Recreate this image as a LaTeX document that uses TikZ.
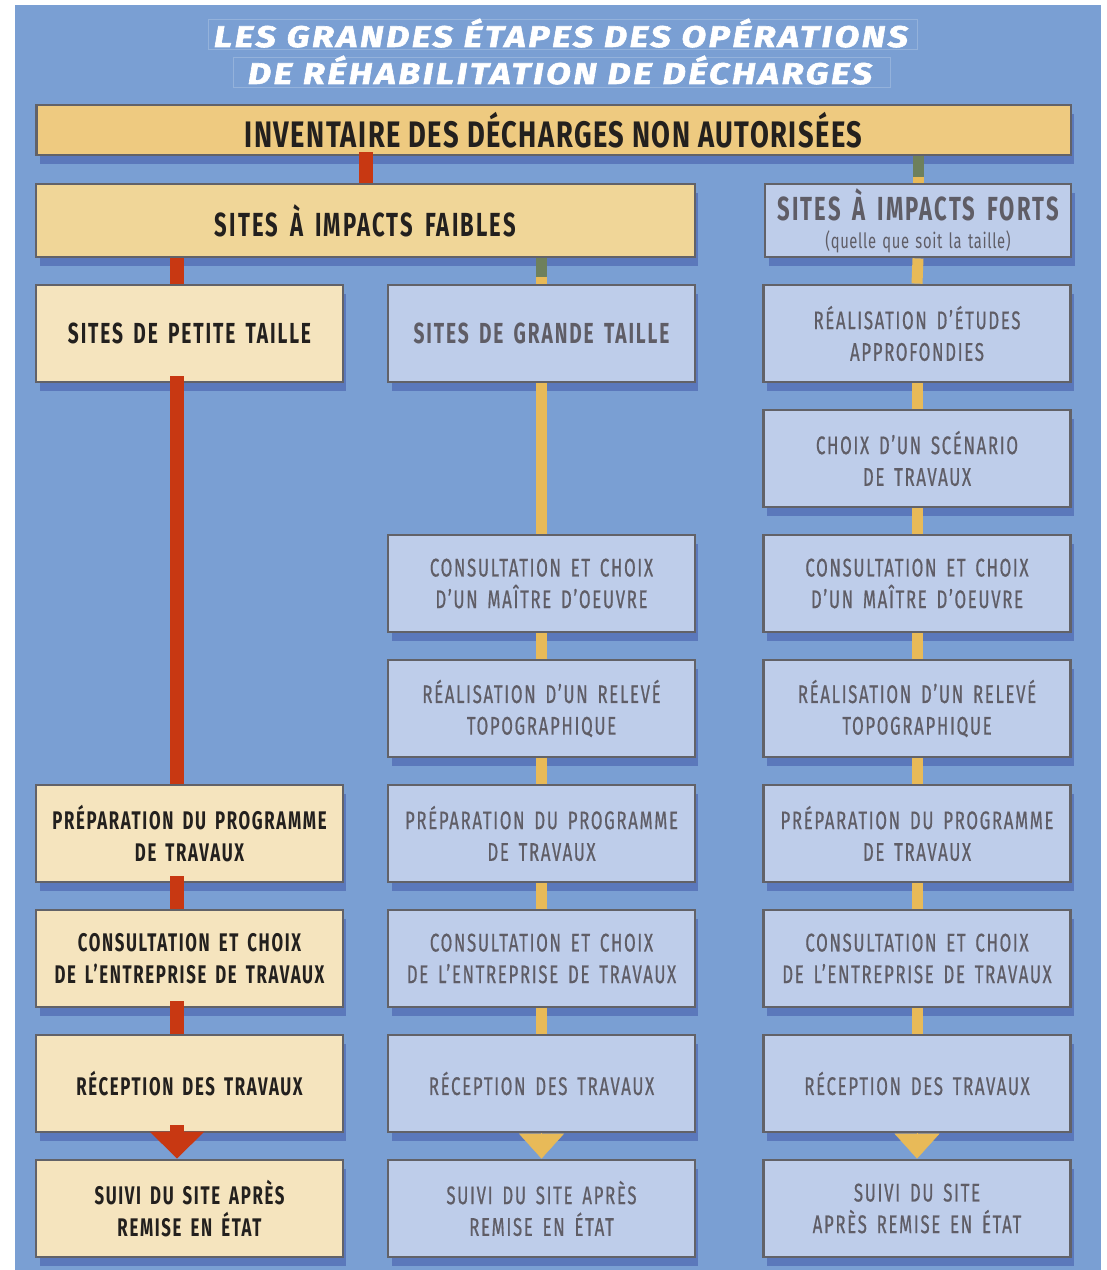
\documentclass[tikz,border=0pt]{standalone}
\usepackage{fontspec}
\setmainfont{Fira Sans}[FakeStretch=0.66, LetterSpace=6.5, WordSpace=1.6]
\newfontfamily\palefont{Fira Sans}[FakeStretch=0.66, LetterSpace=6.5, WordSpace=1.6, FakeBold=0.6]
\newfontfamily\barfont{Fira Sans}[FakeStretch=0.74, LetterSpace=4]
\newfontfamily\notefont{Fira Sans}[FakeStretch=0.7, LetterSpace=3, WordSpace=1.4]
\newfontfamily\titlefont{Fira Sans}[FakeStretch=1.2, LetterSpace=9, FakeBold=2]
\usetikzlibrary{arrows.meta,shadows}
\definecolor{bgblue}{RGB}{122,159,211}
\definecolor{boxblue}{RGB}{190,205,234}
\definecolor{boxcream}{RGB}{245,228,190}
\definecolor{invfill}{RGB}{238,202,128}
\definecolor{faibfill}{RGB}{240,214,152}
\definecolor{bordergray}{RGB}{98,98,104}
\definecolor{redc}{RGB}{200,56,18}
\definecolor{yellowc}{RGB}{232,186,88}
\definecolor{greenc}{RGB}{110,128,92}
\definecolor{textdark}{RGB}{35,32,30}
\definecolor{textgray}{RGB}{95,93,102}
\definecolor{shadowblue}{RGB}{78,104,178}
\begin{document}
\begin{tikzpicture}[x=0.02cm, y=-0.02cm,
  box/.style={draw=bordergray, line width=1.6pt, align=center, inner sep=0pt,
    minimum width=6.14cm, minimum height=1.94cm,
    font=\fontsize{14.5}{18}\selectfont,
    drop shadow={shadow xshift=2pt, shadow yshift=-5pt, fill=shadowblue, opacity=0.7}},
  cream/.style={box, fill=boxcream, text=textdark, font=\fontsize{14.5}{18}\selectfont\bfseries},
  pale/.style={box, fill=boxblue, text=textgray, font=\palefont\fontsize{14.5}{18}\selectfont},
  head/.style={box, font=\fontsize{19}{20}\selectfont\bfseries},
  titletext/.style={text=white, anchor=base, inner sep=0pt, font=\titlefont\fontsize{17}{20}\selectfont\bfseries\itshape},
  frame/.style={draw=white, opacity=0.2, line width=0.5pt},
  redlink/.style={draw=redc, line width=0.28cm},
  yellowlink/.style={draw=yellowc, line width=0.22cm},
  greenlink/.style={draw=greenc, line width=0.22cm},
  redtip/.style={-{Triangle[width=1.06cm, length=0.54cm]}, redlink},
  yellowtip/.style={-{Triangle[width=0.9cm, length=0.5cm]}, yellowlink, line width=0.01cm, fill=yellowc}
]
\useasboundingbox (0,0) rectangle (1106,1270);
\fill[bgblue] (15,5) rectangle (1101,1270);

% ---- title ----
\draw[frame] (208,19) rectangle (917,49);
\draw[frame] (233,57) rectangle (890,87);
\node[titletext] (title1) at (561,47) {LES GRANDES ÉTAPES DES OPÉRATIONS};
\node[titletext] (title2) at (560,84) {DE RÉHABILITATION DE DÉCHARGES};

% ---- top bars ----
\node[box, fill=invfill, minimum width=20.7cm, minimum height=1.0cm, text=textdark,
  font=\barfont\fontsize{21}{22}\selectfont\bfseries] (inv) at (553.5,130) {INVENTAIRE DES DÉCHARGES NON AUTORISÉES};
\node[head, fill=faibfill, text=textdark, minimum width=13.18cm, minimum height=1.46cm] (faibles) at (365.5,220.5) {SITES À IMPACTS FAIBLES};
\node[head, fill=boxblue, text=textgray, minimum width=6.12cm, minimum height=1.46cm] (forts) at (918,220.5)
  {SITES À IMPACTS FORTS\\[-4pt]{\notefont\mdseries\fontsize{12}{14}\selectfont(quelle que soit la taille)}};

% ---- column 1 : petite taille ----
\node[cream, font=\fontsize{16.5}{18}\selectfont\bfseries] (petite) at (189.5,333.5) {SITES DE PETITE TAILLE};
\node[cream] (prepA) at (189.5,833.5) {PRÉPARATION DU PROGRAMME\\DE TRAVAUX};
\node[cream] (consA) at (189.5,958.5) {CONSULTATION ET CHOIX\\DE L’ENTREPRISE DE TRAVAUX};
\node[cream] (recepA) at (189.5,1083.5) {RÉCEPTION DES TRAVAUX};
\node[cream] (suiviA) at (189.5,1208.5) {SUIVI DU SITE APRÈS\\REMISE EN ÉTAT};

% ---- column 2 : grande taille ----
\node[pale, font=\fontsize{16.5}{18}\selectfont\bfseries] (grande) at (541.5,333.5) {SITES DE GRANDE TAILLE};
\node[pale] (moeB) at (541.5,583.5) {CONSULTATION ET CHOIX\\D’UN MAÎTRE D’OEUVRE};
\node[pale] (topoB) at (541.5,708.5) {RÉALISATION D’UN RELEVÉ\\TOPOGRAPHIQUE};
\node[pale] (prepB) at (541.5,833.5) {PRÉPARATION DU PROGRAMME\\DE TRAVAUX};
\node[pale] (consB) at (541.5,958.5) {CONSULTATION ET CHOIX\\DE L’ENTREPRISE DE TRAVAUX};
\node[pale] (recepB) at (541.5,1083.5) {RÉCEPTION DES TRAVAUX};
\node[pale] (suiviB) at (541.5,1208.5) {SUIVI DU SITE APRÈS\\REMISE EN ÉTAT};

% ---- column 3 : impacts forts ----
\node[pale] (etudesC) at (917,333.5) {RÉALISATION D’ÉTUDES\\APPROFONDIES};
\node[pale] (scenC) at (917,458.5) {CHOIX D’UN SCÉNARIO\\DE TRAVAUX};
\node[pale] (moeC) at (917,583.5) {CONSULTATION ET CHOIX\\D’UN MAÎTRE D’OEUVRE};
\node[pale] (topoC) at (917,708.5) {RÉALISATION D’UN RELEVÉ\\TOPOGRAPHIQUE};
\node[pale] (prepC) at (917,833.5) {PRÉPARATION DU PROGRAMME\\DE TRAVAUX};
\node[pale] (consC) at (917,958.5) {CONSULTATION ET CHOIX\\DE L’ENTREPRISE DE TRAVAUX};
\node[pale] (recepC) at (917,1083.5) {RÉCEPTION DES TRAVAUX};
\node[pale] (suiviC) at (917,1208.5) {SUIVI DU SITE\\APRÈS REMISE EN ÉTAT};

% ---- links ----
\draw[redlink] ([yshift=0.08cm]inv.south -| faibles.north) -- (faibles.north);
\draw[greenlink] (inv.south -| forts.north) -- ([yshift=0.12cm]forts.north);
\draw[yellowlink] ([yshift=0.12cm]forts.north) -- (forts.north);
\draw[redlink] ([xshift=-0.25cm]petite.north |- faibles.south) -- ([xshift=-0.25cm]petite.north);
\draw[greenlink] (grande.north |- faibles.south) -- ([yshift=0.14cm]grande.north);
\draw[yellowlink] ([yshift=0.14cm]grande.north) -- (grande.north);

\foreach \a/\b in {petite/prepA, prepA/consA, consA/recepA}
  \draw[redlink] ([xshift=-0.25cm,yshift=0.14cm]\a.south) -- ([xshift=-0.25cm]\b.north);
\draw[redtip] ([xshift=-0.25cm,yshift=0.16cm]recepA.south) -- ([xshift=-0.25cm]suiviA.north);

\foreach \a/\b in {grande/moeB, moeB/topoB, topoB/prepB, prepB/consB, consB/recepB,
                   forts/etudesC, etudesC/scenC, scenC/moeC, moeC/topoC, topoC/prepC, prepC/consC, consC/recepC}
  \draw[yellowlink] (\a.south) -- (\b.north);
\draw[yellowtip] (recepB.south) -- (suiviB.north);
\draw[yellowtip] (recepC.south) -- (suiviC.north);
\end{tikzpicture}
\end{document}
